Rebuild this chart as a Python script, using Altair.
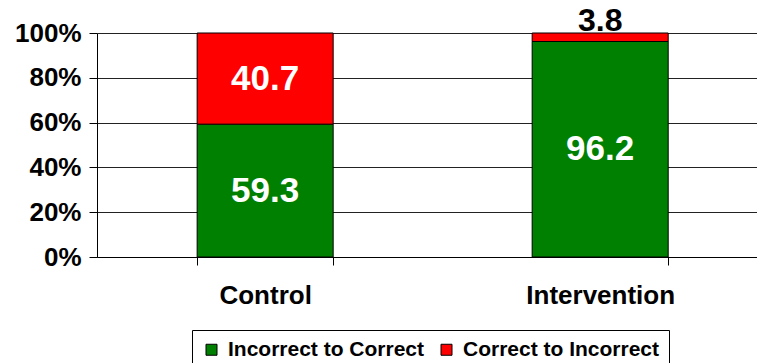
import altair as alt
import pandas as pd

# Share of answers that changed, per study arm (percent)
groups = ["Control", "Intervention"]
incorrect_to_correct = [59.3, 96.2]
correct_to_incorrect = [40.7, 3.8]
series = ["Incorrect to Correct", "Correct to Incorrect"]
series_colors = ["#008000", "#FF0000"]
y_ticks = [0, 20, 40, 60, 80, 100]

rows = []
for g, a, b in zip(groups, incorrect_to_correct, correct_to_incorrect):
    rows.append({"group": g, "series": series[0], "value": a, "order": 0})
    rows.append({"group": g, "series": series[1], "value": b, "order": 1})
df = pd.DataFrame(rows)

FONT = "Liberation Sans"

base = alt.Chart(df).transform_stack(
    stack="value", groupby=["group"], sort=[alt.SortField("order")], as_=["y0", "y1"]
).transform_calculate(
    mid="(datum.y0 + datum.y1) / 2"
)

x_enc = alt.X(
    "group:N",
    sort=groups,
    title=None,
    scale=alt.Scale(paddingInner=0.594, paddingOuter=0.282, align=0.53),
    axis=alt.Axis(
        tickBand="extent",
        tickSize=8,
        tickColor="#000000",
        domainColor="#000000",
        labelAngle=0,
        labelFont=FONT,
        labelFontSize=26,
        labelFontWeight="bold",
        labelColor="#000000",
        labelPadding=17,
        grid=False,
    ),
)

y_scale = alt.Scale(domain=[0, 100], nice=False)

bars = base.mark_bar(stroke="#000000", strokeWidth=1).encode(
    x=x_enc,
    y=alt.Y(
        "y0:Q",
        scale=y_scale,
        title=None,
        axis=alt.Axis(
            values=y_ticks,
            labelExpr="datum.value + '%'",
            tickSize=8,
            tickColor="#000000",
            domainColor="#000000",
            gridColor="#222222",
            gridWidth=1,
            labelFont=FONT,
            labelFontSize=26,
            labelFontWeight="bold",
            labelColor="#000000",
            labelPadding=8,
        ),
    ),
    y2="y1:Q",
    color=alt.Color(
        "series:N",
        scale=alt.Scale(domain=series, range=series_colors),
        legend=alt.Legend(
            title=None,
            orient="none",
            direction="horizontal",
            legendX=95,
            legendY=297,
            strokeColor="#000000",
            padding=9,
            symbolType="square",
            symbolSize=121,
            symbolStrokeColor="#000000",
            symbolStrokeWidth=1,
            labelFont=FONT,
            labelFontSize=21,
            labelFontWeight="bold",
            labelColor="#000000",
            labelOffset=6,
            labelLimit=400,
            columnPadding=11,
        ),
    ),
)

inner_labels = base.transform_filter("datum.value >= 10").mark_text(
    font=FONT, fontSize=35, fontWeight="bold", color="#FFFFFF", baseline="middle"
).encode(
    x=alt.X("group:N", sort=groups),
    y=alt.Y("mid:Q", scale=y_scale),
    text=alt.Text("value:Q", format=".1f"),
)

top_labels = base.transform_filter("datum.value < 10").mark_text(
    font=FONT, fontSize=32, fontWeight="bold", color="#000000", baseline="alphabetic", dy=-2
).encode(
    x=alt.X("group:N", sort=groups),
    y=alt.Y("y1:Q", scale=y_scale),
    text=alt.Text("value:Q", format=".1f"),
)

chart = (
    alt.layer(bars, inner_labels, top_labels)
    .properties(
        width=660,
        height=224,
        padding={"left": 97, "top": 33, "right": 0, "bottom": 106},
        autosize=alt.AutoSizeParams(type="none"),
        background="#FFFFFF",
    )
    .configure_view(strokeWidth=0)
)

chart.save("out.html", embed_options={"renderer": "svg", "actions": False})
